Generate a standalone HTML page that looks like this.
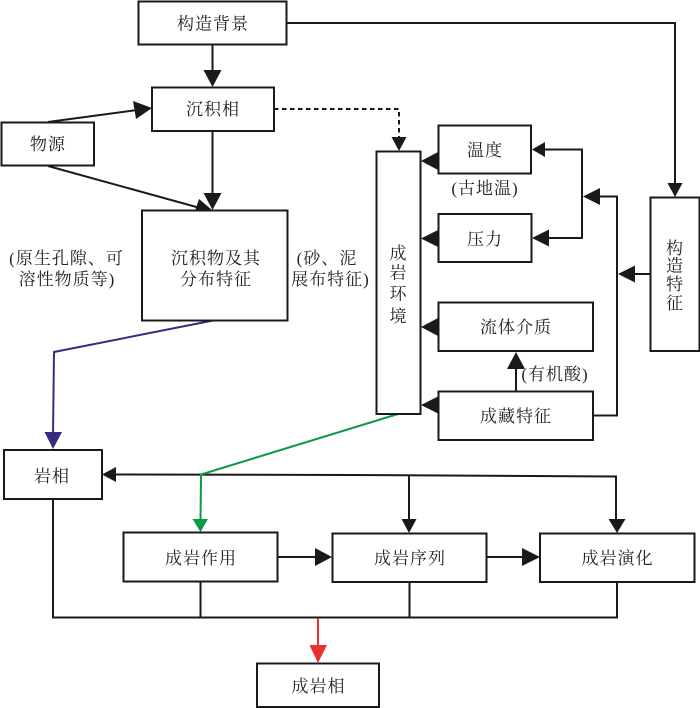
<!DOCTYPE html>
<html><head><meta charset="utf-8">
<style>
html,body{margin:0;padding:0;background:#fff;width:700px;height:708px;overflow:hidden}
svg{display:block}
text{font-family:"Liberation Serif","Noto Serif CJK SC",serif;font-size:17px;fill:#222;text-anchor:middle;letter-spacing:1px}
.b{fill:#fff;stroke:#1a1a1a;stroke-width:2}
.l{fill:none;stroke:#1a1a1a;stroke-width:2}
.a{fill:#1a1a1a;stroke:none}
</style></head><body>
<svg width="700" height="708" viewBox="0 0 700 708" xmlns="http://www.w3.org/2000/svg">
<!-- connectors -->
<path class="l" d="M212.500 45V72"/>
<polygon class="a" points="203.500,70 221.500,70 212.500,87"/>
<path class="l" d="M48 122L137 110"/>
<polygon class="a" points="133,101 152,108 136,119"/>
<path class="l" d="M48 166L200 208"/>
<polygon class="a" points="199,199 212,210 195,211"/>
<path class="l" d="M212.500 131V195"/>
<polygon class="a" points="203.500,193 221.500,193 212.500,210"/>
<path class="l" d="M274 109H399V137" stroke-dasharray="4.500 3.500"/>
<polygon class="a" points="391.500,137 406.500,137 399,151"/>
<path class="l" d="M287 23H675V184"/>
<polygon class="a" points="667.500,183 682.500,183 675,197"/>
<polygon class="a" points="421,161 438,152 438,170"/>
<polygon class="a" points="421,238.500 438,230 438,247"/>
<polygon class="a" points="421,327 438,318 438,336"/>
<polygon class="a" points="421,405 438,396.500 438,413.500"/>
<path class="l" d="M545 149.500H582V238H545"/>
<polygon class="a" points="532,149.500 545,142 545,157"/>
<polygon class="a" points="532,238 549,229.500 549,246.500"/>
<path class="l" d="M593 415.500H617V196.500H598"/>
<polygon class="a" points="583,196.500 600,188 600,205"/>
<path class="l" d="M650 274H630"/>
<polygon class="a" points="618,274 635,265.500 635,282.500"/>
<path class="l" d="M516 391V365"/>
<polygon class="a" points="507,369 525,369 516,352"/>
<path class="l" d="M115 474.500L350 475L616 476.500V520M409 476V520"/>
<polygon class="a" points="102,474.500 116,467 116,482"/>
<polygon class="a" points="401.500,519 416.500,519 409,533"/>
<polygon class="a" points="608.500,519 625.500,519 617,533"/>
<path class="l" d="M277.500 557H318"/>
<polygon class="a" points="315,548 315,566 332,557"/>
<path class="l" d="M486.500 557H525"/>
<polygon class="a" points="522,548 522,566 540,557"/>
<path class="l" d="M53 499V617.500H617V582M200.500 582V617.500M409.500 582V617.500"/>
<path fill="none" stroke="#3a2a80" stroke-width="2" d="M213 320.500L54 352L53 435"/>
<polygon fill="#3a2a80" points="44.500,432 62,432 53,449"/>
<path fill="none" stroke="#0a9a44" stroke-width="2" d="M398 414L201 474.500L200.500 522"/>
<polygon fill="#0a9a44" points="192.500,519 208,519 200.500,532"/>
<path fill="none" stroke="#e8302c" stroke-width="2" d="M318 618V648"/>
<polygon fill="#e8302c" points="309.500,645 327,645 318,663"/>
<!-- boxes -->
<rect class="b" x="138.500" y="1.500" width="148" height="43"/>
<rect class="b" x="152" y="87.500" width="122" height="43.500"/>
<rect class="b" x="1.500" y="122.500" width="92.500" height="43"/>
<rect class="b" x="142" y="210.500" width="145.500" height="110"/>
<rect class="b" x="376.500" y="151.500" width="44" height="262.500"/>
<rect class="b" x="438.500" y="125.500" width="92.500" height="48"/>
<rect class="b" x="438.500" y="214" width="93" height="48"/>
<rect class="b" x="438.500" y="302.500" width="154.500" height="48.500"/>
<rect class="b" x="438.500" y="391.500" width="154.500" height="48.500"/>
<rect class="b" x="650.500" y="197.500" width="49" height="153.500"/>
<rect class="b" x="4" y="450" width="98" height="49"/>
<rect class="b" x="123.500" y="532.500" width="154" height="49"/>
<rect class="b" x="332.500" y="533.500" width="154" height="48.500"/>
<rect class="b" x="540" y="533.500" width="154.500" height="48.500"/>
<rect class="b" x="257" y="663.500" width="122" height="43.500"/>
<!-- labels -->
<text x="213" y="29.500">构造背景</text>
<text x="213" y="115">沉积相</text>
<text x="48" y="150">物源</text>
<text x="216" y="264">沉积物及其</text>
<text x="216" y="285">分布特征</text>
<text x="66.500" y="264">(原生孔隙、可</text>
<text x="67" y="285">溶性物质等)</text>
<text x="327" y="264">(砂、泥</text>
<text x="330.500" y="285">展布特征)</text>
<text x="398.500" y="259">成</text>
<text x="398.500" y="278.500">岩</text>
<text x="398.500" y="299.500">环</text>
<text x="398.500" y="322">境</text>
<text x="485" y="156">温度</text>
<text x="485" y="194">(古地温)</text>
<text x="485" y="245">压力</text>
<text x="516" y="333">流体介质</text>
<text x="555" y="380">(有机酸)</text>
<text x="516" y="422">成藏特征</text>
<text x="675" y="254">构</text>
<text x="675" y="271.500">造</text>
<text x="675" y="290">特</text>
<text x="675" y="309">征</text>
<text x="52" y="482">岩相</text>
<text x="201" y="564">成岩作用</text>
<text x="410" y="564">成岩序列</text>
<text x="617.500" y="564">成岩演化</text>
<text x="318.500" y="692">成岩相</text>
</svg>
</body></html>
